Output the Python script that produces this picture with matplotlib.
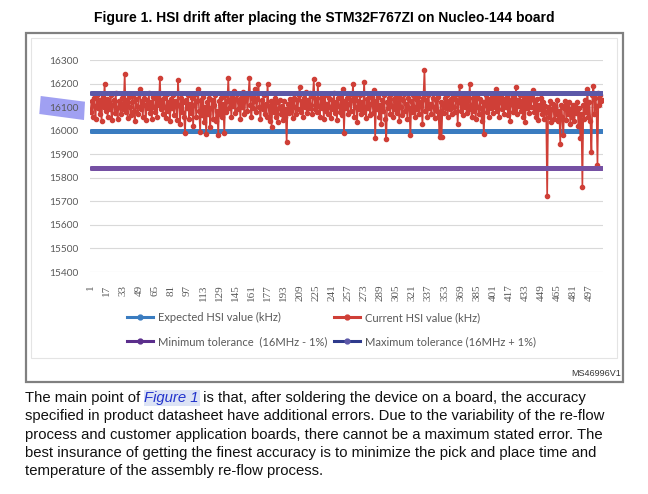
import matplotlib
matplotlib.use('Agg')
import matplotlib.pyplot as plt
from matplotlib.patches import Polygon, Rectangle
from matplotlib.lines import Line2D
import numpy as np

# current HSI value (kHz) (estimated)
current_hsi = [
    16080, 16125, 16060, 16140, 16105, 16050, 16150, 16095, 16130, 16070,
    16115, 16040, 16145, 16100, 16200, 16085, 16135, 16060, 16120, 16090,
    16150, 16045, 16110, 16130, 16075, 16160, 16095, 16050, 16125, 16105,
    16070, 16140, 16090, 16115, 16240, 16080, 16130, 16055, 16145, 16100,
    16065, 16120, 16150, 16085, 16040, 16135, 16105, 16070, 16155, 16178,
    16090, 16125, 16060, 16140, 16110, 16045, 16130, 16095, 16160, 16075,
    16120, 16050, 16145, 16100, 16080, 16135, 16060, 16150, 16110, 16225,
    16090, 16130, 16070, 16140, 16100, 16055, 16155, 16085, 16120, 16040,
    16135, 16095, 16150, 16065, 16125, 16105, 16045, 16216, 16110, 16030,
    16140, 16080, 16120, 16060, 15990, 16130, 16095, 16150, 16050, 16115,
    16075, 16140, 16020, 16110, 16155, 16060, 16125, 16178, 16085, 15994,
    16130, 16065, 16145, 16035, 16100, 15985, 16120, 16070, 16140, 16015,
    16095, 16130, 16050, 16110, 16150, 16040, 16085, 15983, 16125, 16070,
    16140, 16060, 16115, 15989, 16150, 16080, 16125, 16222, 16095, 16130,
    16060, 16145, 16105, 16170, 16075, 16135, 16155, 16090, 16120, 16050,
    16140, 16100, 16165, 16070, 16130, 16145, 16085, 16155, 16222, 16110,
    16060, 16140, 16095, 16125, 16175, 16080, 16135, 16200, 16100, 16050,
    16130, 16090, 16150, 16070, 16115, 16060, 16200, 16105, 16040, 16125,
    16017, 16110, 16080, 16140, 16060, 16120, 16035, 16095, 16130, 16070,
    16105, 16045, 16125, 16060, 16090, 15950, 16115, 16075, 16135, 16085,
    16120, 16055, 16140, 16100, 16070, 16130, 16090, 16150, 16184, 16080,
    16125, 16060, 16140, 16100, 16165, 16075, 16130, 16095, 16160, 16110,
    16070, 16145, 16218, 16090, 16135, 16080, 16200, 16105, 16060, 16140,
    16095, 16125, 16050, 16150, 16085, 16115, 16070, 16140, 16100, 16055,
    16130, 16090, 16160, 16075, 16120, 16045, 16140, 16105, 16080, 16150,
    16065, 16178, 15992, 16125, 16095, 16140, 16070, 16115, 16155, 16085,
    16130, 16198, 16060, 16145, 16100, 16035, 16125, 16090, 16150, 16070,
    16120, 16080, 16208, 16100, 16055, 16135, 16095, 16150, 16065, 16115,
    16140, 16075, 16172, 15968, 16125, 16090, 16145, 16060, 16110, 16030,
    16130, 16085, 16150, 16050, 15966, 16120, 16095, 16140, 16070, 16155,
    16105, 16060, 16135, 16090, 16145, 16075, 16120, 16040, 16140, 16100,
    16065, 16130, 16155, 16085, 16115, 16050, 16140, 16095, 15981, 16125,
    16080, 16150, 16100, 16060, 16135, 16090, 16145, 16070, 16120, 16105,
    16027, 16140, 16258, 16085, 16130, 16060, 16150, 16095, 16115, 16070,
    16140, 16100, 16055, 16130, 16085, 16145, 16065, 15973, 16120, 15972,
    16110, 16075, 16140, 16095, 16150, 16060, 16125, 16090, 16135, 16070,
    16145, 16100, 16080, 16130, 16155, 16027, 16120, 16190, 16085, 16140,
    16065, 16125, 16100, 16150, 16075, 16135, 16090, 16197, 16110, 16060,
    16140, 16085, 16130, 16050, 16145, 16100, 16070, 16135, 16095, 16040,
    16120, 15984, 16110, 16150, 16080, 16135, 16060, 16125, 16095, 16145,
    16075, 16130, 16100, 16176, 16085, 16140, 16060, 16120, 16150, 16090,
    16135, 16070, 16125, 16100, 16145, 16065, 16130, 16040, 16115, 16155,
    16080, 16140, 16095, 16187, 16070, 16130, 16105, 16150, 16085, 16125,
    16060, 16140, 16035, 16120, 16095, 16150, 16075, 16130, 16100, 16145,
    16172, 16080, 16125, 16060, 16135, 16044, 16110, 16090, 16140, 16070,
    16120, 16050, 16105, 16080, 15721, 16100, 16060, 16125, 16035, 16090,
    16115, 16050, 16100, 16070, 16130, 16040, 16085, 15945, 16110, 16060,
    15982, 16095, 16125, 16045, 16105, 16070, 16120, 16030, 16090, 16060,
    16110, 16040, 16100, 16075, 16120, 16020, 16095, 15970, 16070, 15762,
    16110, 16050, 16130, 16080, 16178, 16060, 16120, 16040, 15909, 16150,
    16188, 16070, 16140, 16100, 15855, 16160, 16110, 16150, 16125, 16130,
]
expected_hsi = 16000
min_tolerance = 15840
max_tolerance = 16160

y_ticks = list(range(15400, 16301, 100))
x_ticks = list(range(1, 498, 16))

labels = ['Expected HSI value (kHz)', 'Current HSI value (kHz)',
          'Minimum tolerance  (16MHz - 1%)', 'Maximum tolerance (16MHz + 1%)']

c_expected = '#3A7CC0'
c_current = '#CF3F37'
c_min = '#7550A3'
c_max = '#5C58A8'
grey = '#595959'

W, H = 648, 494
fig = plt.figure(figsize=(W / 100, H / 100), dpi=100)


def fx(px):
    return px / W


def fy(py):
    return 1 - py / H


n = len(current_hsi)
x = np.arange(1, n + 1)

ax = fig.add_axes([fx(90), fy(272), fx(603) - fx(90), fy(60) - fy(272)])
ax.set_facecolor('none')
ax.plot(x, [expected_hsi] * n, color=c_expected, lw=3.6, solid_capstyle='round', zorder=2)
ax.plot(x, current_hsi, color=c_current, lw=1.2, marker='o', ms=3.0, zorder=3)
ax.plot(x, [min_tolerance] * n, color=c_min, lw=3.6, solid_capstyle='round', zorder=4)
ax.plot(x, [max_tolerance] * n, color=c_max, lw=3.6, solid_capstyle='round', zorder=5)

ax.set_xlim(0.5, n + 0.5)
ax.set_ylim(15400, 16300)
ax.set_yticks(y_ticks)
ax.set_yticklabels([str(v) for v in y_ticks], family='Lato', fontsize=7.3, color=grey)
ax.set_xticks(x_ticks)
ax.set_xticklabels([str(v) for v in x_ticks], rotation=90, family='Liberation Serif',
                   fontsize=8, color=grey)
ax.tick_params(axis='y', length=0, pad=8.6)
ax.tick_params(axis='x', length=0, pad=9.0)
ax.grid(axis='y', color='#D9D9D9', lw=0.8, zorder=0)
ax.set_axisbelow(True)
for s in ax.spines.values():
    s.set_visible(False)

# legend (two rows, two columns)
h_exp = Line2D([], [], color=c_expected, lw=2.2, marker='o', ms=3.5)
h_cur = Line2D([], [], color=c_current, lw=2.2, marker='o', ms=3.5)
h_min = Line2D([], [], color='#5B2E8C', lw=2.2, marker='o', ms=3.5)
h_max = Line2D([], [], color='#2E3A8C', lw=2.2, marker='o', ms=3.5, mfc=c_max, mec=c_max)
leg = fig.legend([h_exp, h_min, h_cur, h_max], [labels[0], labels[2], labels[1], labels[3]],
                 ncol=2, loc='upper left', bbox_to_anchor=(fx(127), fy(312)),
                 frameon=False, prop={'family': 'Lato', 'size': 8},
                 handlelength=2.3, handletextpad=0.5, columnspacing=0.6,
                 labelspacing=1.2, borderpad=0, borderaxespad=0)
for t in leg.get_texts():
    t.set_color(grey)

# chart frames
fig.patches.append(Rectangle((fx(31), fy(358)), fx(617) - fx(31), fy(38) - fy(358),
                             transform=fig.transFigure, fill=False, ec='#E4E4E4', lw=0.8))
fig.patches.append(Rectangle((fx(26), fy(382)), fx(623) - fx(26), fy(33) - fy(382),
                             transform=fig.transFigure, fill=False, ec='#808080', lw=1.6))

# highlight marker behind the 16100 label
corners = [(40.7, 96), (85, 101.7), (84, 120), (39.3, 114)]
fig.patches.append(Polygon([(fx(a), fy(b)) for a, b in corners], closed=True,
                           transform=fig.transFigure, fc='#A0A0F2', ec='none', zorder=-1))

fig.text(fx(324), fy(18), 'Figure 1. HSI drift after placing the STM32F767ZI on Nucleo-144 board',
         ha='center', va='center', family='Liberation Sans', weight='bold', fontsize=10)
fig.text(fx(621), fy(373), 'MS46996V1', ha='right', va='center',
         family='Liberation Sans', fontsize=6.5, color='#333333')

# paragraph below the figure
para = [
    'specified in product datasheet have additional errors. Due to the variability of the re-flow',
    'process and customer application boards, there cannot be a maximum stated error. The',
    'best insurance of getting the finest accuracy is to minimize the pick and place time and',
    'temperature of the assembly re-flow process.',
]
pfs = 10.7
pfont = {'family': 'Liberation Sans', 'fontsize': pfs, 'color': '#111111'}
y0, dy = 398, 18.3
renderer = fig.canvas.get_renderer()
t1 = fig.text(fx(25), fy(y0), 'The main point of ', ha='left', va='center', **pfont)
w1 = t1.get_window_extent(renderer).width
t2 = fig.text(fx(25 + w1), fy(y0), 'Figure 1', ha='left', va='center', style='italic',
              family='Liberation Sans', fontsize=pfs, color='#2233CC',
              bbox=dict(fc='#DCE3F5', ec='none', pad=0.5))
w2 = t2.get_window_extent(renderer).width
fig.text(fx(25 + w1 + w2), fy(y0),
         ' is that, after soldering the device on a board, the accuracy',
         ha='left', va='center', **pfont)
for k, line in enumerate(para):
    fig.text(fx(25), fy(y0 + (k + 1) * dy), line, ha='left', va='center', **pfont)

fig.savefig('out.png', dpi=100)
